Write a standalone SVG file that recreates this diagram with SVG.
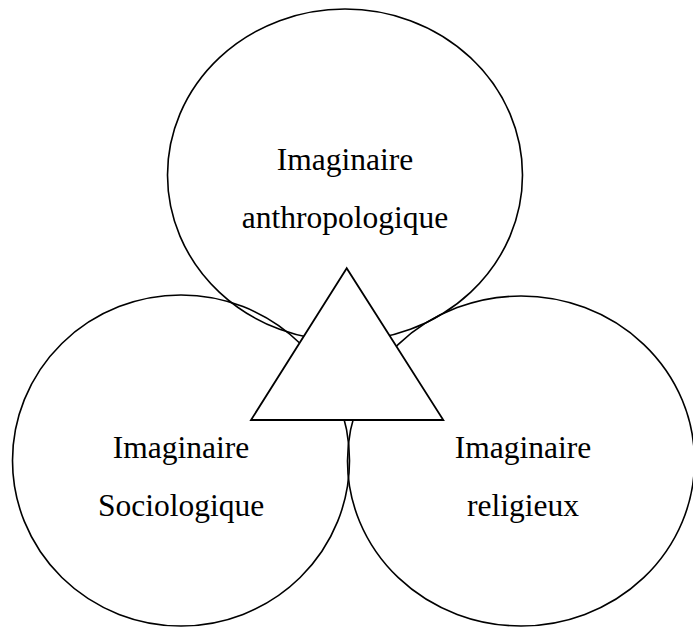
<svg xmlns="http://www.w3.org/2000/svg" width="693" height="627" viewBox="0 0 693 627">
<style>
.c{fill:none;stroke:#000;stroke-width:1.6}
.t{fill:#fff;stroke:#000;stroke-width:1.8}
text{font-family:"Liberation Serif","Times New Roman",serif;font-size:31.5px;text-anchor:middle;fill:#000}
</style>
<rect width="693" height="627" fill="#fff"/>
<g id="top"><ellipse class="c" cx="345" cy="175" rx="177.5" ry="166"/>
<text x="345" y="170">Imaginaire</text><text x="345" y="228">anthropologique</text></g>
<g id="left"><ellipse class="c" cx="181" cy="460.5" rx="168.5" ry="165.5"/>
<text x="181" y="458">Imaginaire</text><text x="181" y="516">Sociologique</text></g>
<g id="right"><ellipse class="c" cx="521" cy="461" rx="173.5" ry="165"/>
<text x="523" y="458">Imaginaire</text><text x="523" y="516">religieux</text></g>
<g id="triangle"><polygon class="t" points="346.7,268.3 251,420 443.3,420"/></g>
</svg>
